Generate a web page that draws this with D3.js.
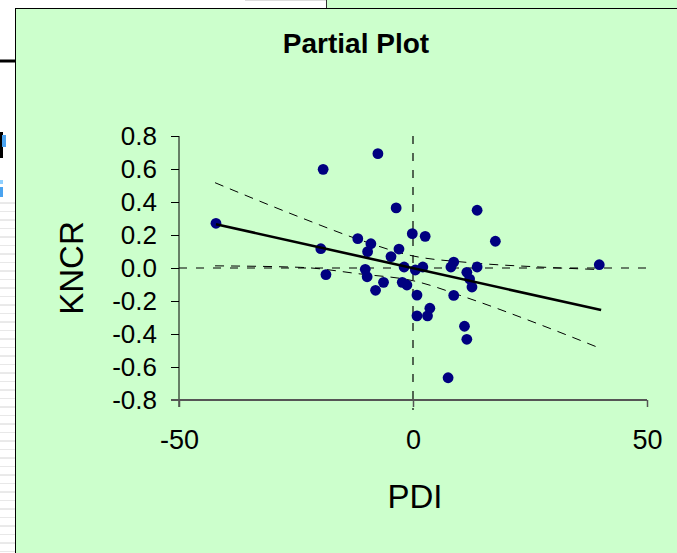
<!DOCTYPE html>
<html>
<head>
<meta charset="utf-8">
<script src="https://cdn.jsdelivr.net/npm/d3@7/dist/d3.min.js"></script>
<style>
  html, body { margin: 0; padding: 0; background: #ffffff; }
  svg { display: block; font-family: "Liberation Sans", Arial, sans-serif; }
</style>
</head>
<body>
<svg id="chart" width="677" height="553"></svg>
<script>
// ---- data ----
const pdi = [-42.1, -19.2, -7.5, -3.6, -0.15, -11.8, -9.0, -9.7, -3.0, -4.7,
             -19.7, -1.9, 0.5, -18.6, -10.2, -9.8, -6.3, -8.0, -2.3, -1.3,
             0.85, 0.85, 13.7, 2.6, 17.6, 39.8, 8.7, 8.1, 2.1, 13.7,
             11.5, 12.1, 12.6, 8.7, 3.6, 3.1, 11.0, 11.5, 7.5];
const kncr = [0.271, 0.598, 0.693, 0.364, 0.208, 0.178, 0.147, 0.099, 0.115, 0.069,
              0.117, 0.006, -0.012, -0.040, -0.008, -0.053, -0.087, -0.135, -0.087, -0.103,
              -0.164, -0.290, 0.350, 0.192, 0.162, 0.020, 0.036, 0.006, 0.006, 0.006,
              -0.026, -0.067, -0.115, -0.166, -0.244, -0.290, -0.353, -0.432, -0.665];
const fitX = [-42.1, 40.2];
const fitY = [0.265, -0.255];
const upperX = [-42.3, -24.1, -11.3, 0, 11.5, 27.1, 40.2];
const upperY = [0.517, 0.307, 0.170, 0.073, 0.034, 0.006, -0.010];
const lowerX = [-42.3, -24.1, -11.3, 0, 11.5, 26.4, 40.2];
const lowerY = [0.013, 0.004, -0.036, -0.077, -0.180, -0.335, -0.489];
const xTicks = [-50, 0, 50];
const xTickLabels = ["-50", "0", "50"];
const yTicks = [-0.8, -0.6, -0.4, -0.2, 0, 0.2, 0.4, 0.6, 0.8];
const yTickLabels = ["-0.8", "-0.6", "-0.4", "-0.2", "0.0", "0.2", "0.4", "0.6", "0.8"];
const titleText = "Partial Plot";
const xTitle = "PDI";
const yTitle = "KNCR";

// ---- drawing ----
const svg = d3.select("#chart");
const W = 677, H = 553;

// background spreadsheet remnants
svg.append("rect").attr("x", 0).attr("y", 0).attr("width", W).attr("height", H).attr("fill", "#ffffff");
for (let y = 203; y < H; y += 8.5) {
  svg.append("line").attr("x1", 0).attr("x2", 15).attr("y1", y).attr("y2", y)
    .attr("stroke", Math.round((y - 203) / 8.5) % 2 === 0 ? "#d4d4d4" : "#e8e8e8").attr("stroke-width", 1);
}
svg.append("rect").attr("x", 0).attr("y", 59.5).attr("width", 15).attr("height", 3).attr("fill", "#000");
svg.append("rect").attr("x", 0).attr("y", 132).attr("width", 3).attr("height", 26).attr("fill", "#000");
svg.append("rect").attr("x", 2).attr("y", 135).attr("width", 4).attr("height", 12).attr("fill", "#4aa3f0");
svg.append("rect").attr("x", 0).attr("y", 180).attr("width", 3).attr("height", 4).attr("fill", "#8fd0ff");
svg.append("rect").attr("x", 0).attr("y", 187).attr("width", 3).attr("height", 10).attr("fill", "#4aa3f0");
svg.append("line").attr("x1", 245).attr("x2", 326).attr("y1", 0.5).attr("y2", 0.5).attr("stroke", "#dcdcdc");
svg.append("rect").attr("x", 327).attr("y", 0).attr("width", W - 327).attr("height", 8).attr("fill", "#CCFFCC");
svg.append("line").attr("x1", 326.5).attr("x2", 326.5).attr("y1", 0).attr("y2", 8).attr("stroke", "#333");

// chart area
svg.append("rect").attr("x", 15.5).attr("y", 8.5).attr("width", W).attr("height", H)
  .attr("fill", "#CCFFCC").attr("stroke", "#000").attr("stroke-width", 1);

const x = d3.scaleLinear().domain([-50, 50]).range([179, 647]);
const y = d3.scaleLinear().domain([-0.8, 0.8]).range([400, 136]);

// title
svg.append("text").attr("x", 356).attr("y", 53).attr("text-anchor", "middle")
  .attr("font-size", 28).attr("font-weight", "bold").attr("fill", "#000").text(titleText);

// zero reference lines
svg.append("line").attr("x1", x(-50)).attr("x2", 650).attr("y1", y(0)).attr("y2", y(0))
  .attr("stroke", "#000").attr("stroke-width", 1.2).attr("stroke-dasharray", "8,9");
svg.append("line").attr("x1", x(0)).attr("x2", x(0)).attr("y1", y(0.8)).attr("y2", 410)
  .attr("stroke", "#000").attr("stroke-width", 1.2).attr("stroke-dasharray", "8,9");

// y axis
const yAxis = d3.axisLeft(y).tickValues(yTicks).tickSize(8).tickPadding(14)
  .tickFormat((d, i) => yTickLabels[i]);
const gy = svg.append("g").attr("transform", `translate(${x(-50)},0)`).call(yAxis);
gy.select(".domain").remove();
gy.selectAll(".tick line").attr("stroke", "#000");
gy.selectAll("text").attr("font-size", 26).attr("fill", "#000")
  .attr("font-family", "'Liberation Sans', Arial, sans-serif");
svg.append("line").attr("x1", x(-50)).attr("x2", x(-50)).attr("y1", y(0.8)).attr("y2", 407)
  .attr("stroke", "#000").attr("stroke-width", 1);

// x axis
const xAxis = d3.axisBottom(x).tickValues(xTicks).tickSize(7).tickPadding(23)
  .tickFormat((d, i) => xTickLabels[i]);
const gx = svg.append("g").attr("transform", `translate(0,${y(-0.8)})`).call(xAxis);
gx.select(".domain").remove();
gx.selectAll(".tick line").attr("stroke", "#555").attr("stroke-width", 1.5);
gx.selectAll("text").attr("font-size", 27).attr("fill", "#000")
  .attr("font-family", "'Liberation Sans', Arial, sans-serif");
svg.append("line").attr("x1", 171).attr("x2", x(50)).attr("y1", y(-0.8)).attr("y2", y(-0.8))
  .attr("stroke", "#555").attr("stroke-width", 2);

// axis titles
svg.append("text").attr("x", 415).attr("y", 508).attr("text-anchor", "middle")
  .attr("font-size", 33).attr("fill", "#000").text(xTitle);
svg.append("text").attr("transform", "translate(83,268) rotate(-90)").attr("text-anchor", "middle")
  .attr("font-size", 33).attr("fill", "#000").text(yTitle);

// confidence bands
const band = d3.line().x(d => x(d[0])).y(d => y(d[1])).curve(d3.curveMonotoneX);
svg.append("path").datum(upperX.map((v, i) => [v, upperY[i]])).attr("d", band)
  .attr("fill", "none").attr("stroke", "#000").attr("stroke-width", 1).attr("stroke-dasharray", "9,7");
svg.append("path").datum(lowerX.map((v, i) => [v, lowerY[i]])).attr("d", band)
  .attr("fill", "none").attr("stroke", "#000").attr("stroke-width", 1).attr("stroke-dasharray", "9,7");

// points
svg.append("g").selectAll("circle").data(pdi.map((v, i) => [v, kncr[i]])).join("circle")
  .attr("cx", d => x(d[0])).attr("cy", d => y(d[1])).attr("r", 5.4).attr("fill", "#000080");

// fitted line
svg.append("path").datum(fitX.map((v, i) => [v, fitY[i]]))
  .attr("d", d3.line().x(d => x(d[0])).y(d => y(d[1])))
  .attr("fill", "none").attr("stroke", "#000").attr("stroke-width", 2.6);
</script>
</body>
</html>
